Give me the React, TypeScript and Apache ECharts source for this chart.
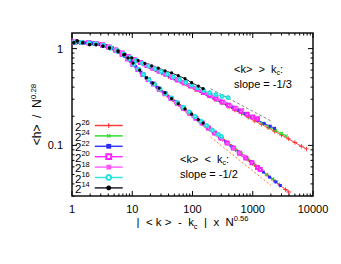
import React, { useEffect, useRef } from 'react';
import * as echarts from 'echarts';

const FONT = '"Liberation Sans", Arial, sans-serif';

const legendNames = ['2^26', '2^24', '2^22', '2^20', '2^18', '2^16', '2^14'];
const seriesColors = ['#ff3030', '#22d822', '#2a2aff', '#ff22ff', '#ff55ff', '#22e0e0', '#000000'];
const lineColors = ['#ff4040', '#30dd30', '#3a3aff', '#ff30ff', '#ff66ff', '#33e6e6', '#202030'];

const xTickLabels = ['1', '10', '100', '1000', '10000'];
const yTickLabels = ['0.1', '1'];
const X_MIN = 1, X_MAX = 10000, Y_MIN = 0.03, Y_MAX = 1.45;

// <k> > kc branches
const upper26 = [[1.1,1.15],[1.4,1.15],[1.8,1.14],[2.3,1.13],[3,1.1],[3.8,1.06],[4.8,1.0],[6,0.94],[7.5,0.87],[9.5,0.8],[12,0.74],[15,0.69],[19,0.645],[24,0.6],[31,0.555],[40,0.515],[52,0.475],[67,0.44],[86,0.41],[110,0.38],[140,0.352],[180,0.325],[235,0.298],[300,0.275],[390,0.253],[500,0.232],[650,0.213],[840,0.195],[1080,0.179],[1400,0.165],[1800,0.152],[2300,0.14],[3000,0.128],[3900,0.117],[5000,0.107],[6400,0.098],[7800,0.092]];
const upper24 = [[1.15,1.14],[1.5,1.14],[2,1.13],[2.6,1.12],[3.4,1.08],[4.4,1.03],[5.6,0.97],[7,0.9],[8.8,0.83],[11,0.77],[14,0.715],[18,0.665],[23,0.62],[29,0.58],[37,0.54],[47,0.5],[60,0.465],[77,0.432],[98,0.403],[125,0.373],[160,0.345],[205,0.318],[260,0.294],[335,0.272],[430,0.25],[550,0.232],[700,0.214],[900,0.197],[1150,0.182],[1470,0.168],[1880,0.155],[2400,0.143],[3000,0.133],[3600,0.125]];
const upper22 = [[1.2,1.16],[1.6,1.15],[2.1,1.14],[2.8,1.11],[3.6,1.07],[4.7,1.01],[6,0.94],[7.6,0.87],[9.6,0.8],[12.2,0.74],[15.5,0.69],[20,0.64],[25,0.6],[32,0.56],[41,0.52],[52,0.485],[67,0.45],[85,0.42],[108,0.392],[138,0.363],[176,0.337],[225,0.312],[285,0.29],[365,0.268],[465,0.248],[590,0.23],[750,0.213],[960,0.197],[1220,0.182],[1550,0.169],[1950,0.158],[2300,0.15]];
const upper20 = [[1.1,1.17],[1.45,1.16],[1.9,1.15],[2.5,1.13],[3.2,1.09],[4.1,1.04],[5.3,0.97],[6.8,0.9],[8.6,0.83],[10.8,0.77],[13.7,0.72],[17.5,0.67],[22,0.625],[28,0.585],[36,0.545],[46,0.507],[58,0.473],[74,0.44],[94,0.41],[120,0.38],[152,0.352],[194,0.327],[246,0.303],[313,0.28],[398,0.26],[505,0.242],[640,0.225],[810,0.21],[1000,0.197],[1200,0.188]];
const upper18 = [[1.05,1.18],[1.4,1.17],[1.85,1.15],[2.4,1.13],[3.1,1.1],[4,1.05],[5.2,0.98],[6.7,0.91],[8.5,0.84],[10.7,0.78],[13.5,0.725],[17,0.675],[21.5,0.63],[27,0.59],[34,0.552],[43,0.515],[54,0.482],[68,0.45],[86,0.42],[108,0.392],[136,0.365],[172,0.34],[216,0.317],[272,0.296],[343,0.276],[432,0.259],[545,0.245],[680,0.235]];
const upper16 = [[1.1,1.16],[1.45,1.16],[1.9,1.14],[2.5,1.12],[3.3,1.08],[4.3,1.02],[5.6,0.95],[7.2,0.88],[9.2,0.81],[11.7,0.755],[14.8,0.705],[18.8,0.66],[24,0.62],[30,0.58],[38,0.545],[48,0.51],[61,0.478],[77,0.448],[97,0.42],[122,0.393],[154,0.37],[194,0.35],[245,0.335],[308,0.322],[390,0.312]];
const upper14 = [[1.07,1.15],[1.22,1.2],[1.5,1.15],[1.96,1.1],[2.5,1.1],[3.26,1.06],[4.2,1.02],[5.8,0.95],[7.5,0.87],[9.8,0.8],[12.5,0.755],[16.2,0.705],[21,0.665],[27,0.63],[35,0.59],[45,0.56],[58,0.525],[75,0.49],[97,0.445],[125,0.41],[150,0.385]];

// <k> < kc branches
const lower26 = [[1.1,1.15],[1.4,1.15],[1.8,1.14],[2.3,1.13],[3,1.1],[3.8,1.06],[4.8,1.0],[6,0.93],[7.3,0.85],[8.7,0.77],[10.3,0.69],[12.2,0.61],[14.5,0.545],[17.5,0.485],[21,0.44],[26,0.395],[32,0.355],[40,0.318],[50,0.285],[63,0.254],[80,0.226],[100,0.203],[125,0.182],[160,0.161],[200,0.145],[255,0.128],[320,0.115],[410,0.102],[520,0.09],[660,0.08],[840,0.071],[1070,0.063],[1360,0.056],[1730,0.0495],[2200,0.044],[2800,0.039],[3500,0.035],[3950,0.033]];
const lower24 = [[1.15,1.14],[1.5,1.14],[2,1.13],[2.6,1.12],[3.4,1.08],[4.4,1.02],[5.6,0.95],[7,0.87],[8.5,0.79],[10.3,0.7],[12.5,0.615],[15,0.54],[18.5,0.475],[23,0.425],[29,0.375],[36,0.337],[46,0.298],[58,0.265],[74,0.235],[94,0.21],[120,0.186],[152,0.165],[195,0.147],[250,0.13],[315,0.116],[400,0.103],[510,0.091],[650,0.081],[830,0.072],[1050,0.064],[1340,0.057],[1700,0.05],[2150,0.045],[2500,0.042]];
const lower22 = [[1.2,1.16],[1.6,1.15],[2.1,1.14],[2.8,1.11],[3.6,1.07],[4.7,1.0],[6,0.92],[7.6,0.83],[9.4,0.74],[11.5,0.65],[14,0.57],[17,0.5],[21,0.445],[26,0.397],[33,0.353],[41,0.316],[52,0.282],[66,0.25],[84,0.222],[107,0.197],[136,0.175],[173,0.155],[220,0.138],[280,0.123],[355,0.109],[450,0.097],[575,0.086],[730,0.076],[930,0.068],[1180,0.06],[1500,0.053],[1900,0.047],[2400,0.042],[2870,0.0385]];
const lower20 = [[1.1,1.17],[1.45,1.16],[1.9,1.15],[2.5,1.13],[3.2,1.09],[4.1,1.03],[5.3,0.96],[6.8,0.87],[8.4,0.78],[10.2,0.69],[12.4,0.61],[15,0.54],[18.4,0.48],[22.5,0.43],[28,0.38],[35,0.342],[44,0.305],[56,0.272],[71,0.242],[90,0.215],[114,0.191],[145,0.17],[184,0.151],[233,0.134],[296,0.119],[375,0.106],[476,0.094],[604,0.083],[766,0.074],[970,0.066],[1200,0.059],[1330,0.0565]];
const lower18 = [[1.05,1.18],[1.4,1.17],[1.85,1.15],[2.4,1.13],[3.1,1.1],[4,1.04],[5.2,0.97],[6.7,0.88],[8.3,0.79],[10.1,0.7],[12.3,0.62],[15,0.545],[18.3,0.485],[22.4,0.433],[27.5,0.385],[34,0.346],[42,0.31],[52,0.279],[65,0.25],[81,0.224],[101,0.2],[126,0.18],[158,0.161],[198,0.144],[248,0.129],[310,0.116],[388,0.104],[485,0.093],[600,0.084],[700,0.078]];
const lower16 = [[1.1,1.16],[1.45,1.16],[1.9,1.14],[2.5,1.12],[3.3,1.08],[4.3,1.01],[5.6,0.94],[7.2,0.86],[8.8,0.78],[10.6,0.69],[12.8,0.61],[15.5,0.54],[19,0.48],[23.5,0.43],[29,0.383],[36,0.343],[45,0.308],[56,0.277],[70,0.248],[88,0.222],[110,0.199],[138,0.178],[172,0.16],[215,0.144],[268,0.13],[300,0.124]];
const lower14 = [[1.07,1.15],[1.22,1.2],[1.5,1.15],[1.96,1.1],[2.5,1.1],[3.26,1.06],[4.2,1.01],[5.8,0.93],[7.2,0.86],[8.5,0.8],[10.3,0.71],[13.3,0.6],[17.2,0.5],[22,0.44],[28,0.39],[35,0.35],[45,0.305],[58,0.27],[75,0.238],[97,0.21],[125,0.185],[150,0.17]];

const refSlopeThird = [[200, 0.385], [2000, 0.179]];
const refSlopeHalf = [[200, 0.122], [2000, 0.0386]];

const upperData = [upper26, upper24, upper22, upper20, upper18, upper16, upper14];
const lowerData = [lower26, lower24, lower22, lower20, lower18, lower16, lower14];

const PLUS = 'path://M4,0H6V4H10V6H6V10H4V6H0V4H4Z';
const symbols = [PLUS, PLUS, 'rect', 'emptyRect', 'rect', 'emptyCircle', 'circle'];
const symbolRotations = [0, 45, 0, 0, 0, 0, 0];
const symbolSizes = [4.5, 4.5, 3, 3, 3, 3, 3.2];

function buildTicks() {
  const ticks: number[][] = [];
  for (let d = 0; d < 4; d++) {
    const base = Math.pow(10, d);
    ticks.push([base, Y_MIN, 0, 5]);
    for (let k = 2; k <= 9; k++) ticks.push([k * base, Y_MIN, 0, 2.5]);
  }
  ticks.push([X_MAX, Y_MIN, 0, 5]);
  for (let k = 3; k <= 9; k++) ticks.push([X_MIN, k * 0.01, 1, 2.5]);
  ticks.push([X_MIN, 0.1, 1, 5]);
  for (let k = 2; k <= 9; k++) ticks.push([X_MIN, k * 0.1, 1, 2.5]);
  ticks.push([X_MIN, 1, 1, 5]);
  return ticks;
}

const richMain = (size: number, lh: number) => ({
  m: { fontSize: size, fontFamily: FONT, color: '#000', lineHeight: lh, verticalAlign: 'middle' },
  sub: { fontSize: size - 4, fontFamily: FONT, color: '#000', lineHeight: lh - 5, verticalAlign: 'bottom' },
  sup: { fontSize: size - 4, fontFamily: FONT, color: '#000', lineHeight: lh - 8, verticalAlign: 'top' },
});

export default function App() {
  const ref = useRef<HTMLDivElement>(null);
  useEffect(() => {
    if (!ref.current) return;
    const chart = echarts.init(ref.current, undefined, { renderer: 'svg' });
    const series: any[] = [];
    legendNames.forEach((name, i) => {
      [upperData[i], lowerData[i]].forEach((d) => {
        series.push({
          type: 'line',
          name,
          data: d,
          symbol: symbols[i],
          symbolRotate: symbolRotations[i],
          symbolSize: symbolSizes[i],
          showAllSymbol: true,
          lineStyle: { color: lineColors[i], width: 1 },
          itemStyle: { color: seriesColors[i], borderWidth: 0.8 },
          emphasis: { disabled: true },
          silent: true,
        });
      });
    });
    series.push({
      type: 'line', data: refSlopeThird, symbol: 'none', silent: true,
      lineStyle: { color: '#888', width: 1, type: [3, 2] },
    });
    series.push({
      type: 'line', data: refSlopeHalf, symbol: 'none', silent: true,
      lineStyle: { color: '#ff7a3a', width: 1, type: [2, 2] },
    });
    series.push({
      type: 'custom',
      data: buildTicks(),
      encode: { x: 0, y: 1 },
      silent: true,
      clip: false,
      z: 10,
      renderItem: (params: any, api: any) => {
        const p = api.coord([api.value(0), api.value(1)]);
        const cs = params.coordSys;
        const dir = api.value(2);
        const len = api.value(3);
        const style = { stroke: '#000', lineWidth: 1 };
        if (dir === 0) {
          return {
            type: 'group',
            children: [
              { type: 'line', shape: { x1: p[0], y1: cs.y + cs.height, x2: p[0], y2: cs.y + cs.height - len }, style },
              { type: 'line', shape: { x1: p[0], y1: cs.y, x2: p[0], y2: cs.y + len }, style },
            ],
          };
        }
        return {
          type: 'group',
          children: [
            { type: 'line', shape: { x1: cs.x, y1: p[1], x2: cs.x + len, y2: p[1] }, style },
            { type: 'line', shape: { x1: cs.x + cs.width, y1: p[1], x2: cs.x + cs.width - len, y2: p[1] }, style },
          ],
        };
      },
    });

    const matchLabel = (labels: string[]) => (v: number) => {
      for (const l of labels) {
        if (Math.abs(Math.log10(v) - Math.log10(parseFloat(l))) < 1e-6) return l;
      }
      return '';
    };

    chart.setOption({
      animation: false,
      backgroundColor: '#fff',
      textStyle: { fontFamily: FONT },
      grid: {
        left: 72, top: 33, width: 241, height: 163,
        show: true, borderColor: '#111', borderWidth: 1.5, backgroundColor: 'transparent',
      },
      xAxis: {
        type: 'log', logBase: 10, min: X_MIN, max: X_MAX,
        axisLine: { show: false }, axisTick: { show: false }, splitLine: { show: false },
        axisLabel: { formatter: matchLabel(xTickLabels), color: '#000', fontSize: 11, fontFamily: FONT, margin: 7 },
        name: '{m||  < k >  -  k}{sub|c}{m|  |  x  N}{sup|0.56}',
        nameLocation: 'middle', nameGap: 18, nameMoveOverlap: false,
        nameTextStyle: { rich: richMain(11.5, 16) },
      },
      yAxis: {
        type: 'log', logBase: 10, min: Y_MIN, max: Y_MAX,
        axisLine: { show: false }, axisTick: { show: false }, splitLine: { show: false },
        axisLabel: { formatter: matchLabel(yTickLabels), color: '#000', fontSize: 11, fontFamily: FONT, margin: 9 },
        name: '{m|<h>  /  N}{sup|0.28}',
        nameLocation: 'middle', nameGap: 27, nameMoveOverlap: false,
        nameTextStyle: { rich: richMain(12, 16) },
      },
      legend: {
        data: legendNames,
        orient: 'vertical',
        align: 'right',
        left: 75, top: 118.5,
        padding: 0,
        itemWidth: 28, itemHeight: 6, itemGap: -3.6,
        selectedMode: false,
        lineStyle: { width: 1.5 },
        formatter: (name: string) => `{b|2}{s|${name.slice(2)}}`,
        textStyle: {
          color: '#000', fontFamily: FONT,
          rich: {
            b: { fontSize: 11.5, lineHeight: 14, verticalAlign: 'bottom', fontFamily: FONT, color: '#000' },
            s: { fontSize: 7.5, lineHeight: 7, verticalAlign: 'top', fontFamily: FONT, color: '#000' },
          },
        },
      },
      graphic: [
        { type: 'text', left: 234, top: 63, style: { text: '{m|<k>  >  k}{sub|c}{m|:}', rich: richMain(11, 14) } },
        { type: 'text', left: 234, top: 78, style: { text: 'slope = -1/3', fontSize: 11, fontFamily: FONT, fill: '#000' } },
        { type: 'text', left: 180, top: 153, style: { text: '{m|<k>  <  k}{sub|c}{m|:}', rich: richMain(11, 14) } },
        { type: 'text', left: 180, top: 168, style: { text: 'slope = -1/2', fontSize: 11, fontFamily: FONT, fill: '#000' } },
      ],
      series,
    });
    return () => chart.dispose();
  }, []);
  return <div ref={ref} style={{ position: 'absolute', left: 0, top: 0, width: 341, height: 264 }} />;
}
